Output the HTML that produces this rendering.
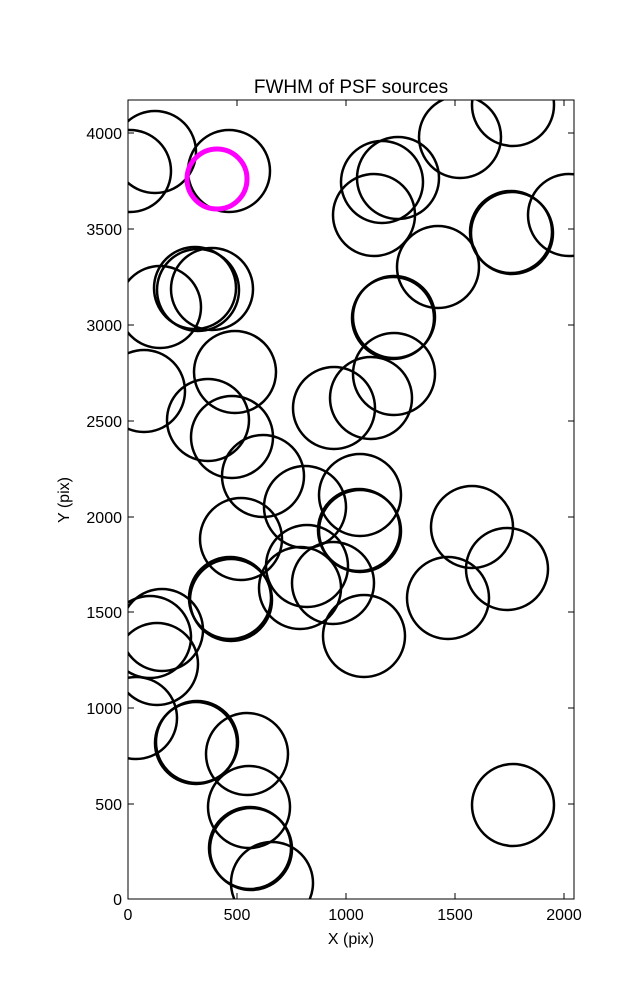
<!DOCTYPE html>
<html><head><style>body{margin:0;background:#fff}</style></head><body>
<svg width="637" height="1000" xmlns="http://www.w3.org/2000/svg" font-family="Liberation Sans, DejaVu Sans, sans-serif">
<rect width="637" height="1000" fill="#fff"/>
<defs><clipPath id="c"><rect x="128" y="100" width="446" height="799"/></clipPath></defs>
<g clip-path="url(#c)" fill="none" stroke="#000" stroke-width="2.5">
<circle cx="130" cy="171" r="41"/><circle cx="155" cy="152" r="41"/><circle cx="229" cy="171" r="41"/>
<circle cx="513" cy="105" r="41"/><circle cx="460" cy="137" r="41"/><circle cx="398" cy="178" r="41"/>
<circle cx="382" cy="182" r="41"/><circle cx="374" cy="215" r="41"/><circle cx="512" cy="233" r="41"/>
<circle cx="511" cy="232" r="41"/><circle cx="569" cy="215" r="41"/><circle cx="438" cy="267" r="41"/>
<circle cx="393" cy="318" r="41"/><circle cx="394" cy="317" r="41"/>
<circle cx="160" cy="307" r="41"/><circle cx="195" cy="288" r="41"/><circle cx="198" cy="290" r="41"/><circle cx="212" cy="289" r="41"/>
<circle cx="144" cy="391" r="41"/><circle cx="235" cy="372" r="41"/><circle cx="208" cy="420" r="41"/>
<circle cx="232" cy="437" r="41"/><circle cx="263" cy="476" r="41"/><circle cx="334" cy="408" r="41"/>
<circle cx="371" cy="398" r="41"/><circle cx="394" cy="374" r="41"/><circle cx="305" cy="507" r="41"/>
<circle cx="360" cy="495" r="41"/><circle cx="360" cy="531" r="41"/><circle cx="359" cy="530" r="41"/><circle cx="241" cy="539" r="41"/>
<circle cx="472" cy="527" r="41"/><circle cx="507" cy="569" r="41"/><circle cx="448" cy="598" r="41"/>
<circle cx="307" cy="566" r="41"/><circle cx="333" cy="583" r="41"/><circle cx="300" cy="588" r="41"/>
<circle cx="230" cy="598" r="41"/><circle cx="231" cy="600" r="41"/><circle cx="364" cy="636" r="41"/>
<circle cx="162" cy="630" r="41"/><circle cx="150" cy="637" r="41"/><circle cx="157" cy="664" r="41"/>
<circle cx="136" cy="718" r="41"/><circle cx="196" cy="743" r="41"/><circle cx="197" cy="742" r="41"/><circle cx="247" cy="754" r="41"/>
<circle cx="249" cy="807" r="41"/><circle cx="251" cy="849" r="41"/><circle cx="250" cy="848" r="41"/><circle cx="272" cy="883" r="41"/>
<circle cx="513" cy="805" r="41"/>
<circle cx="217" cy="179" r="30" stroke="#ff00ff" stroke-width="5"/>
</g>
<rect x="128" y="100" width="446" height="799" fill="none" stroke="#000" stroke-width="1"/>
<g stroke="#000" stroke-width="1">
<line x1="128" y1="899" x2="128" y2="893"/><line x1="237" y1="899" x2="237" y2="893"/><line x1="346" y1="899" x2="346" y2="893"/><line x1="455" y1="899" x2="455" y2="893"/><line x1="564" y1="899" x2="564" y2="893"/>
<line x1="237" y1="100" x2="237" y2="106"/><line x1="346" y1="100" x2="346" y2="106"/><line x1="455" y1="100" x2="455" y2="106"/><line x1="564" y1="100" x2="564" y2="106"/>
<line x1="128" y1="804" x2="134" y2="804"/><line x1="128" y1="708" x2="134" y2="708"/><line x1="128" y1="612" x2="134" y2="612"/><line x1="128" y1="517" x2="134" y2="517"/><line x1="128" y1="421" x2="134" y2="421"/><line x1="128" y1="325" x2="134" y2="325"/><line x1="128" y1="229" x2="134" y2="229"/><line x1="128" y1="133" x2="134" y2="133"/>
<line x1="574" y1="804" x2="568" y2="804"/><line x1="574" y1="708" x2="568" y2="708"/><line x1="574" y1="612" x2="568" y2="612"/><line x1="574" y1="517" x2="568" y2="517"/><line x1="574" y1="421" x2="568" y2="421"/><line x1="574" y1="325" x2="568" y2="325"/><line x1="574" y1="229" x2="568" y2="229"/><line x1="574" y1="133" x2="568" y2="133"/>
</g>
<g font-size="16" text-anchor="middle">
<text x="128" y="920">0</text><text x="237" y="920">500</text><text x="346" y="920">1000</text><text x="455" y="920">1500</text><text x="564" y="920">2000</text>
</g>
<g font-size="16" text-anchor="end">
<text x="122" y="905">0</text><text x="122" y="810">500</text><text x="122" y="714">1000</text><text x="122" y="618">1500</text><text x="122" y="523">2000</text><text x="122" y="427">2500</text><text x="122" y="331">3000</text><text x="122" y="235">3500</text><text x="122" y="139">4000</text>
</g>
<text x="351" y="944" font-size="16" text-anchor="middle">X (pix)</text>
<text x="69" y="500" font-size="16" text-anchor="middle" transform="rotate(-90 69 500)">Y (pix)</text>
<text x="351" y="93" font-size="19" text-anchor="middle">FWHM of PSF sources</text>
</svg>
</body></html>
